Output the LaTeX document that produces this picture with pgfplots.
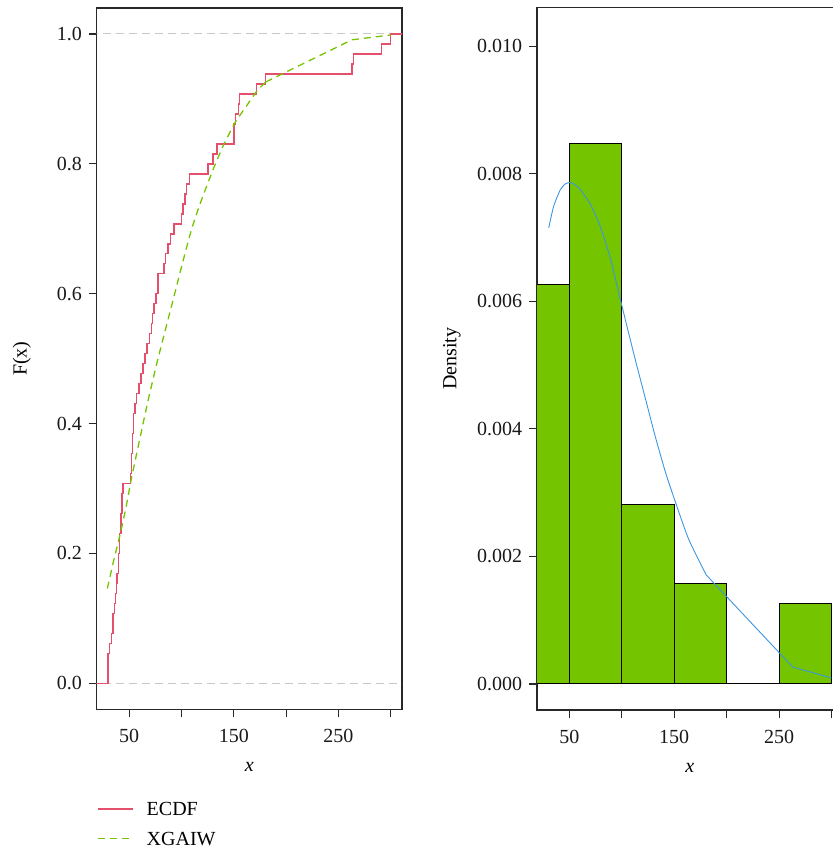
\documentclass[border=0pt]{standalone}
\usepackage{fontspec}
\setmainfont{Liberation Serif}
\usepackage{pgfplots}
\pgfplotsset{compat=1.18}
\definecolor{ecdfred}{RGB}{228,80,108}
\definecolor{fitgreen}{RGB}{118,196,0}
\definecolor{histgreen}{RGB}{116,196,0}
\definecolor{fitblue}{RGB}{60,150,225}
\definecolor{refgray}{RGB}{200,200,200}
\definecolor{axcol}{RGB}{40,40,40}

\pgfplotsset{
  common/.style={
    scale only axis,
    axis line style={axcol, line width=1.1pt},
    every tick/.style={axcol, line width=1.1pt},
    tick align=outside,
    major tick length=8pt,
    xtick pos=left, ytick pos=left,
    tick label style={text=black!90},
    xmin=19.1, xmax=310.7,
    xtick={50,100,150,200,250,300},
    xticklabels={50,,150,,250,},
    xticklabel style={yshift=-5pt},
    xlabel={\textit{x}},
  }
}

\begin{document}
\fontsize{20}{24}\selectfont
\begin{tikzpicture}
% ---------------- left panel: ECDF vs fitted CDF ----------------
\begin{axis}[common,
  at={(96.7pt,140.7pt)}, anchor=south west,
  width=305.3pt, height=701.3pt,
  ymin=-0.04, ymax=1.04,
  ytick={0,0.2,0.4,0.6,0.8,1},
  yticklabels={0.0,0.2,0.4,0.6,0.8,1.0},
  ylabel={F(x)},
  xlabel style={at={(axis description cs:0.5,-0.0823)}, anchor=center},
  ylabel style={at={(axis description cs:-0.245,0.5)}, anchor=center},
  legend image code/.code={\draw[#1] (0pt,-0.5pt) -- (35pt,-0.5pt);},
  legend style={at={(axis description cs:0,0)}, anchor=north west,
    yshift=-92pt, draw=none, fill=none, inner sep=0pt,
    nodes={inner sep=0pt, text height=13.5pt, text depth=0pt},
    row sep=16.5pt,
    /tikz/every odd column/.append style={column sep=13.3pt},
    legend cell align=left},
]
\addplot[refgray, line width=1pt, dash pattern=on 8pt off 5pt, forget plot] coordinates {(0,0) (330,0)};
\addplot[refgray, line width=1pt, dash pattern=on 8pt off 5pt, forget plot] coordinates {(0,1) (330,1)};
\addplot[ecdfred, line width=1.5pt, const plot] coordinates {
(10,0) (29.9,0.04615) (31.5,0.06154) (33.4,0.07692) (34.7,0.10769) (36,0.12308)
(37.2,0.13846) (37.9,0.15385) (38.5,0.16923) (39.8,0.2) (41.1,0.23077) (42.4,0.26154)
(43.4,0.29231) (44.3,0.30769) (51.3,0.32308) (52.2,0.35385) (53.2,0.38462) (54.4,0.41538)
(55.7,0.43077) (57,0.44615) (59.5,0.46154) (61.4,0.47692) (63.3,0.49231) (65.2,0.50769)
(67.1,0.52308) (69.7,0.53846) (71.3,0.55385) (72.5,0.56923) (73.8,0.58462) (75.5,0.6)
(77.7,0.63077) (83.4,0.64615) (85,0.66154) (87.2,0.67692) (89.8,0.69231) (93,0.70769)
(100,0.72308) (101.5,0.73846) (103.2,0.75385) (104.8,0.76923) (107.9,0.78462) (125.4,0.8)
(130.2,0.81538) (134.2,0.83077) (150.3,0.86154) (151.9,0.87692) (154.4,0.89231) (155.7,0.90769)
(171.6,0.92308) (180.5,0.93846) (262.9,0.95385) (264.6,0.96923) (291,0.98462) (299.9,1) (320,1)
};
\addlegendentry{ECDF}
\addplot[fitgreen, line width=1.3pt, dash pattern=on 7pt off 5pt, smooth, tension=0.3] coordinates {
(29.3,0.146) (35,0.187) (41.1,0.227) (47,0.27) (52.2,0.315) (60.2,0.376) (68.1,0.435)
(76.1,0.49) (84,0.54) (92,0.59) (101.5,0.65) (109.5,0.698) (117.5,0.737) (130.2,0.791)
(140,0.828) (150.9,0.8626) (162.1,0.889) (171.6,0.911) (180.5,0.926)
};
\addlegendentry{XGAIW}
\addplot[fitgreen, line width=1.3pt, dash pattern=on 7pt off 5pt, forget plot] coordinates {
(180.5,0.926) (262.9,0.991) (299.9,0.9985)
};
\end{axis}

% ---------------- right panel: histogram with fitted density ----------------
\begin{axis}[common,
  at={(537pt,140pt)}, anchor=south west,
  width=305.7pt, height=702.7pt,
  ymin=-0.000408, ymax=0.010608,
  ytick={0,0.002,0.004,0.006,0.008,0.01},
  yticklabels={0.000,0.002,0.004,0.006,0.008,0.010},
  ylabel={Density},
  xlabel style={at={(axis description cs:0.5,-0.082)}, anchor=center},
  ylabel style={at={(axis description cs:-0.278,0.5)}, anchor=center},
]
\addplot[fill=histgreen, draw=black, line width=1pt] coordinates {(0,0) (0,0.00627) (50,0.00627) (50,0)} --cycle;
\addplot[fill=histgreen, draw=black, line width=1pt] coordinates {(50,0) (50,0.00847) (100,0.00847) (100,0)} --cycle;
\addplot[fill=histgreen, draw=black, line width=1pt] coordinates {(100,0) (100,0.00282) (150,0.00282) (150,0)} --cycle;
\addplot[fill=histgreen, draw=black, line width=1pt] coordinates {(150,0) (150,0.00157) (200,0.00157) (200,0)} --cycle;
\addplot[draw=black, line width=1pt] coordinates {(200,0) (250,0)};
\addplot[fill=histgreen, draw=black, line width=1pt] coordinates {(250,0) (250,0.001254) (300,0.001254) (300,0)} --cycle;
\addplot[fitblue, line width=0.9pt, smooth, tension=0.4] coordinates {
(30.3,0.00715) (35,0.00749) (41.4,0.00775) (46.2,0.00784) (50.3,0.00786) (55,0.00783)
(60.5,0.00775) (70,0.00752) (79.5,0.00717) (89.1,0.00667) (100.2,0.00592) (112.9,0.00508)
(122.4,0.00448) (131.9,0.00388) (142,0.0033) (152.6,0.00278) (163,0.0023) (171.6,0.002) (180.5,0.00171)
};
\addplot[fitblue, line width=0.9pt] coordinates {
(180.5,0.00171) (263,0.000266) (300,0.000094)
};
\end{axis}
\pgfresetboundingbox
\path[use as bounding box] (0pt,0pt) rectangle (832pt,850pt);
\end{tikzpicture}
\end{document}
